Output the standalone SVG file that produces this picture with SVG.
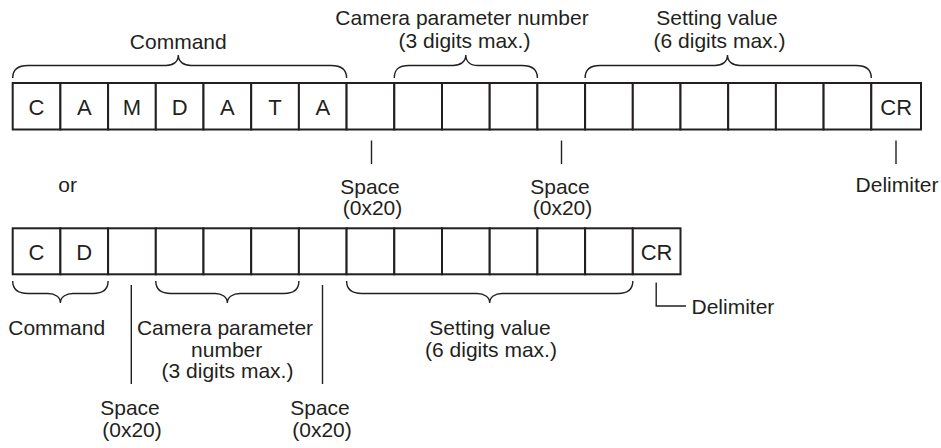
<svg xmlns="http://www.w3.org/2000/svg" width="941" height="448" viewBox="0 0 941 448">
<style>
.cell{fill:#fff;stroke:#231f20;stroke-width:2}
.ch{font-family:"Liberation Sans",Arial,sans-serif;font-size:22px;fill:#231f20;text-anchor:middle}
.lb{font-family:"Liberation Sans",Arial,sans-serif;font-size:21px;fill:#231f20;text-anchor:middle}
.lbs{font-family:"Liberation Sans",Arial,sans-serif;font-size:21px;fill:#231f20;text-anchor:start}
.br{fill:none;stroke:#231f20;stroke-width:1.4}
.tk{fill:none;stroke:#231f20;stroke-width:1.4}
</style>
<rect width="941" height="448" fill="#fff"/>

<g id="row1">
  <rect class="cell" x="12.7" y="83" width="47.7" height="46.5"/>
  <rect class="cell" x="60.4" y="83" width="47.7" height="46.5"/>
  <rect class="cell" x="108.1" y="83" width="47.7" height="46.5"/>
  <rect class="cell" x="155.8" y="83" width="47.7" height="46.5"/>
  <rect class="cell" x="203.5" y="83" width="47.7" height="46.5"/>
  <rect class="cell" x="251.2" y="83" width="47.7" height="46.5"/>
  <rect class="cell" x="298.9" y="83" width="47.7" height="46.5"/>
  <rect class="cell" x="346.6" y="83" width="47.7" height="46.5"/>
  <rect class="cell" x="394.3" y="83" width="47.7" height="46.5"/>
  <rect class="cell" x="442" y="83" width="47.7" height="46.5"/>
  <rect class="cell" x="489.7" y="83" width="47.7" height="46.5"/>
  <rect class="cell" x="537.4" y="83" width="47.7" height="46.5"/>
  <rect class="cell" x="585.1" y="83" width="47.7" height="46.5"/>
  <rect class="cell" x="632.8" y="83" width="47.7" height="46.5"/>
  <rect class="cell" x="680.5" y="83" width="47.7" height="46.5"/>
  <rect class="cell" x="728.2" y="83" width="47.7" height="46.5"/>
  <rect class="cell" x="775.9" y="83" width="47.7" height="46.5"/>
  <rect class="cell" x="823.6" y="83" width="47.7" height="46.5"/>
  <rect class="cell" x="871.3" y="83" width="49.7" height="46.5"/>
  <text class="ch" x="36.55" y="114.5">C</text>
  <text class="ch" x="84.25" y="114.5">A</text>
  <text class="ch" x="131.95" y="114.5">M</text>
  <text class="ch" x="179.65" y="114.5">D</text>
  <text class="ch" x="227.35" y="114.5">A</text>
  <text class="ch" x="275.05" y="114.5">T</text>
  <text class="ch" x="322.75" y="114.5">A</text>
  <text class="ch" x="896.2" y="114.5">CR</text>
</g>

<g id="row2">
  <rect class="cell" x="12.7" y="228.3" width="47.7" height="46"/>
  <rect class="cell" x="60.4" y="228.3" width="47.7" height="46"/>
  <rect class="cell" x="108.1" y="228.3" width="47.7" height="46"/>
  <rect class="cell" x="155.8" y="228.3" width="47.7" height="46"/>
  <rect class="cell" x="203.5" y="228.3" width="47.7" height="46"/>
  <rect class="cell" x="251.2" y="228.3" width="47.7" height="46"/>
  <rect class="cell" x="298.9" y="228.3" width="47.7" height="46"/>
  <rect class="cell" x="346.6" y="228.3" width="47.7" height="46"/>
  <rect class="cell" x="394.3" y="228.3" width="47.7" height="46"/>
  <rect class="cell" x="442" y="228.3" width="47.7" height="46"/>
  <rect class="cell" x="489.7" y="228.3" width="47.7" height="46"/>
  <rect class="cell" x="537.4" y="228.3" width="47.7" height="46"/>
  <rect class="cell" x="585.1" y="228.3" width="47.7" height="46"/>
  <rect class="cell" x="632.8" y="228.3" width="47.7" height="46"/>
  <text class="ch" x="36.55" y="259.5">C</text>
  <text class="ch" x="84.25" y="259.5">D</text>
  <text class="ch" x="656.6" y="259.5">CR</text>
</g>

<g id="connectors">
  <!-- top braces -->
  <path class="br" d="M12.7,78 C12.7,70 17,65.5 28,65.5 L166,65.5 C173,65.5 178.3,62 178.3,55 C178.3,62 184,65.5 191,65.5 L331,65.5 C342,65.5 346.6,70 346.6,78"/>
  <path class="br" d="M394.3,78 C394.3,70 398,65.5 409,65.5 L453,65.5 C460,65.5 465.8,62 465.8,55 C465.8,62 471,65.5 478,65.5 L522,65.5 C533,65.5 537.4,70 537.4,78"/>
  <path class="br" d="M585.1,78 C585.1,70 589,65.5 600,65.5 L715,65.5 C722,65.5 727.5,62 727.5,55 C727.5,62 733,65.5 740,65.5 L856,65.5 C867,65.5 871.3,70 871.3,78"/>
  <!-- bottom braces -->
  <path class="br" d="M12.7,281 C12.7,289 17,293.5 28,293.5 L48,293.5 C55,293.5 60.4,297 60.4,303 C60.4,297 66,293.5 73,293.5 L93,293.5 C104,293.5 108.1,289 108.1,281"/>
  <path class="br" d="M155.8,281 C155.8,289 160,293.5 171,293.5 L215,293.5 C222,293.5 227.35,297 227.35,303 C227.35,297 233,293.5 240,293.5 L284,293.5 C295,293.5 298.9,289 298.9,281"/>
  <path class="br" d="M346.6,281 C346.6,289 351,293.5 362,293.5 L477,293.5 C484,293.5 489.7,297 489.7,303 C489.7,297 495,293.5 502,293.5 L618,293.5 C629,293.5 632.8,289 632.8,281"/>
  <!-- ticks top -->
  <line class="tk" x1="371.5" y1="140.5" x2="371.5" y2="164"/>
  <line class="tk" x1="561.5" y1="140.5" x2="561.5" y2="164"/>
  <line class="tk" x1="896" y1="140.5" x2="896" y2="164"/>
  <!-- ticks bottom -->
  <line class="tk" x1="131.3" y1="285" x2="131.3" y2="384"/>
  <line class="tk" x1="322.5" y1="285" x2="322.5" y2="384"/>
  <polyline class="tk" points="656.2,282.5 656.2,306 686,306"/>
</g>

<g id="labels-top">
  <text class="lb" x="178.3" y="48.5">Command</text>
  <text class="lb" x="462" y="25">Camera parameter number</text>
  <text class="lb" x="464.5" y="48">(3 digits max.)</text>
  <text class="lb" x="717" y="25">Setting value</text>
  <text class="lb" x="719.5" y="48">(6 digits max.)</text>
  <text class="lb" x="370" y="193.5">Space</text>
  <text class="lb" x="372.5" y="215">(0x20)</text>
  <text class="lb" x="560" y="193.5">Space</text>
  <text class="lb" x="562.5" y="215">(0x20)</text>
  <text class="lb" x="897" y="192">Delimiter</text>
  <text class="lb" x="67.7" y="192.3">or</text>
</g>

<g id="labels-bottom">
  <text class="lb" x="56.7" y="335">Command</text>
  <text class="lb" x="225" y="335">Camera parameter</text>
  <text class="lb" x="226.7" y="356.5">number</text>
  <text class="lb" x="227.5" y="378">(3 digits max.)</text>
  <text class="lb" x="490" y="335">Setting value</text>
  <text class="lb" x="491" y="357">(6 digits max.)</text>
  <text class="lb" x="130" y="415">Space</text>
  <text class="lb" x="132" y="436.5">(0x20)</text>
  <text class="lb" x="320" y="415">Space</text>
  <text class="lb" x="322" y="436.5">(0x20)</text>
  <text class="lbs" x="691.5" y="314">Delimiter</text>
</g>
</svg>
